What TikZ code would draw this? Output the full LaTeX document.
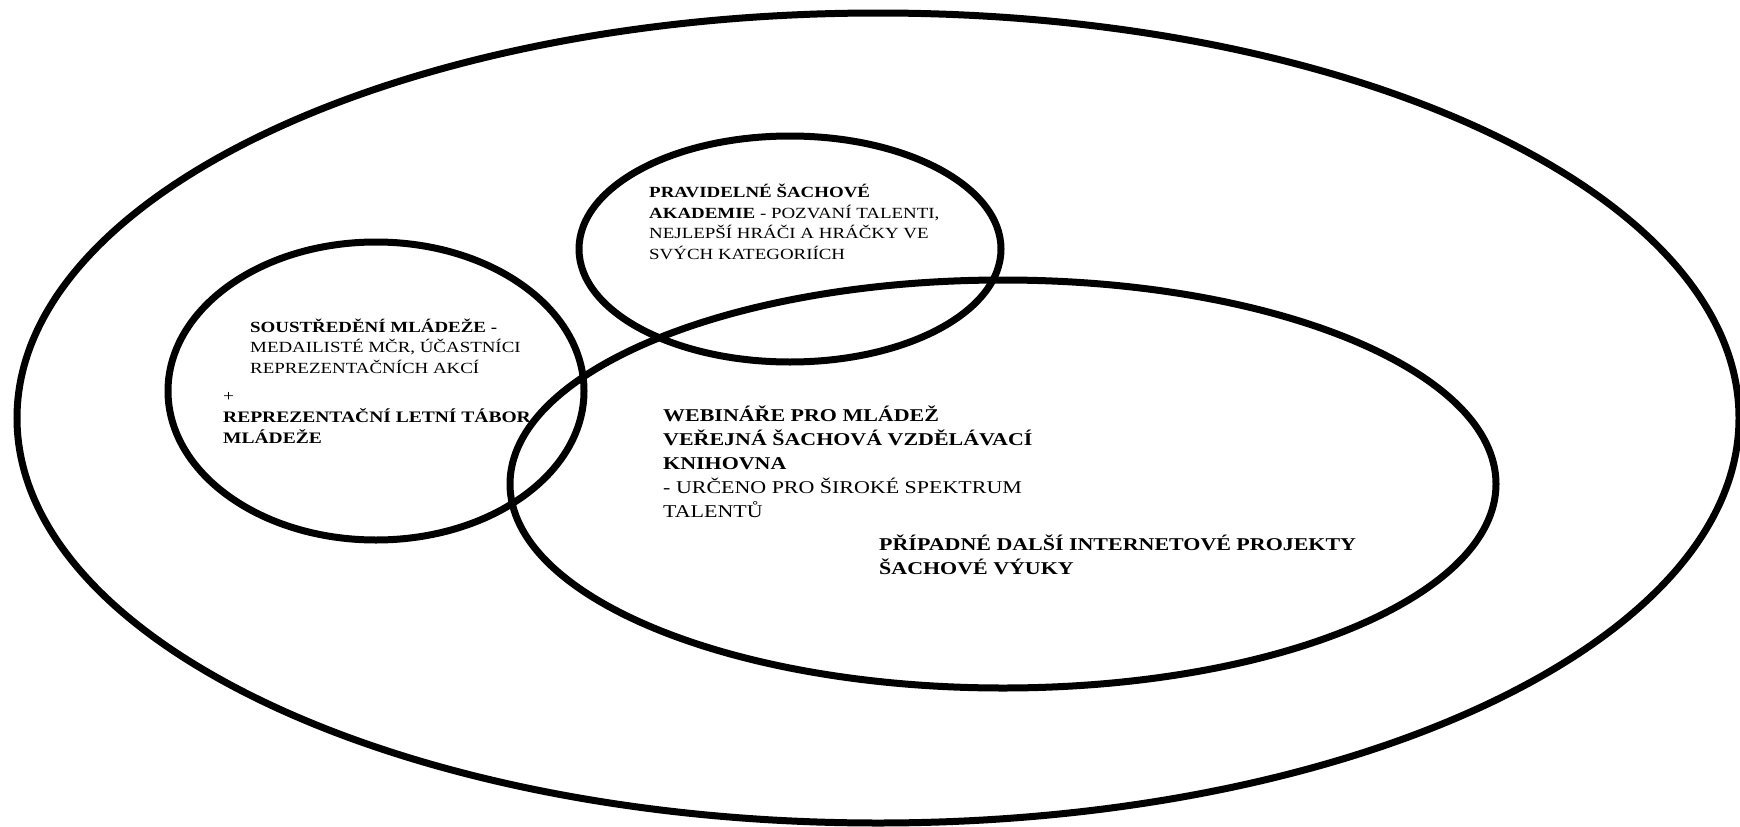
\documentclass[tikz,border=0pt]{standalone}
\usepackage{fontspec}
\setmainfont{Liberation Serif}[FakeStretch=1.22]
\usepackage{tikz}
\usetikzlibrary{positioning}

\tikzset{
  kruh/.style={line width=7pt},
  popis/.style={anchor=base west, inner sep=0pt, align=left},
}

\begin{document}
\begin{tikzpicture}[x=1pt,y=-1pt]
      \useasboundingbox (0,0) rectangle (1740,827);

      \draw[kruh] (878,418) ellipse [x radius=861, y radius=405];
      \draw[kruh] (790,249) ellipse [x radius=211, y radius=113];
      \draw[kruh] (376,391) ellipse [x radius=208, y radius=149];
      \draw[kruh] (1003,484) ellipse [x radius=493, y radius=204];

      % base = posledni radek
      \node[popis, font=\fontsize{15.5}{20.5}\selectfont] (akademie) at (649,259)
        {\textbf{PRAVIDELNÉ ŠACHOVÉ}\\\textbf{AKADEMIE} - POZVANÍ TALENTI,\\NEJLEPŠÍ HRÁČI A HRÁČKY VE\\SVÝCH KATEGORIÍCH};
      \node[popis, font=\fontsize{15.5}{20.5}\selectfont] (soustredeni) at (250,373)
        {\textbf{SOUSTŘEDĚNÍ MLÁDEŽE -}\\MEDAILISTÉ MČR, ÚČASTNÍCI\\REPREZENTAČNÍCH AKCÍ};
      \node[popis, font=\fontsize{16}{21}\selectfont] (tabor) at (223,443)
        {+\\\textbf{REPREZENTAČNÍ LETNÍ TÁBOR}\\\textbf{MLÁDEŽE}};
      \node[popis, font=\fontsize{18}{24}\selectfont] (webinare) at (663,517)
        {\textbf{WEBINÁŘE PRO MLÁDEŽ}\\\textbf{VEŘEJNÁ ŠACHOVÁ VZDĚLÁVACÍ}\\\textbf{KNIHOVNA}\\ - URČENO PRO ŠIROKÉ SPEKTRUM\\TALENTŮ};
      \node[popis, font=\fontsize{18}{24}\selectfont] (projekty) at (879,574)
        {\textbf{PŘÍPADNÉ DALŠÍ INTERNETOVÉ PROJEKTY}\\\textbf{ŠACHOVÉ VÝUKY}};

\end{tikzpicture}
\end{document}
